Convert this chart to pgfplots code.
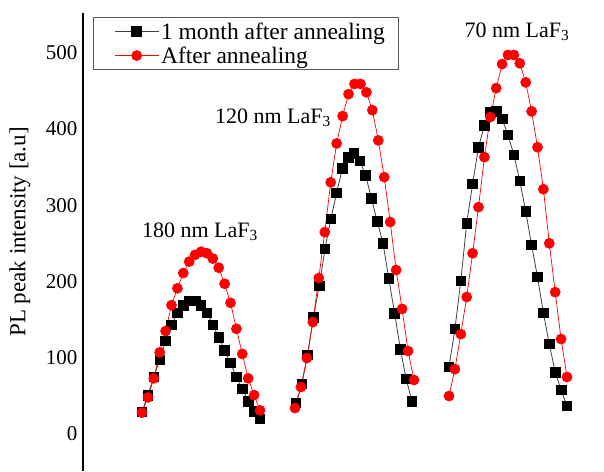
\documentclass[border=0pt]{standalone}
\usepackage{pgfplots}
\pgfplotsset{compat=1.18}
\usepackage{fontspec}
\setmainfont{Liberation Serif}
\begin{document}
\begin{tikzpicture}
\useasboundingbox (0,0) rectangle (604pt,471pt);
\begin{axis}[
  at={(83pt,0pt)}, anchor=south west,
  scale only axis, width=521pt, height=458pt,
  xmin=83, xmax=604, ymin=-48.5, ymax=552,
  separate axis lines,
  axis x line=none,
  axis y line*=left,
  y axis line style={line width=1.6pt},
  ytick={0,100,200,300,400,500},
  ytick style={draw=none},
  yticklabel style={font=\fontsize{21}{24}\selectfont, xshift=-2pt},
  /pgf/number format/assume math mode=true,
  ylabel={PL peak intensity [a.u]},
  ylabel style={font=\fontsize{23}{26}\selectfont, at={(axis description cs:-0.121,0.522)}, anchor=center},
  unbounded coords=jump,
  clip=false,
  legend style={at={(axis description cs:0.019,0.991)}, anchor=north west, draw=gray!70!black, line width=0.8pt,
    font=\fontsize{23.5}{26}\selectfont, inner xsep=11pt, inner ysep=3pt, row sep=2pt, legend cell align=left,
    nodes={inner xsep=2pt}},
  legend image code/.code={\path (-10pt,0pt); \draw[mark repeat=2,mark phase=2,#1] plot coordinates {(0pt,0pt) (22pt,0pt) (44pt,0pt)};},
]
\addplot[black!75, line width=0.8pt, mark=square*, mark size=4.8pt, mark options={fill=black, draw=black}] coordinates {
(142,28.8) (147.9,51) (153.8,74.7) (159.7,97) (165.6,121.9) (171.5,142.9) (177.4,158.6) (183.3,169) (189.2,174.3) (195.1,174.3) (201,169) (206.9,158.6) (212.8,142.9) (218.7,127) (224.6,110) (230.5,93) (236.4,74.7) (242.3,59) (248.2,43) (254.1,30) (260,19.7)
(275,nan)
(296,40.6) (301.8,65.5) (307.6,103.5) (313.4,153) (319.2,194) (325,242.5) (330.8,282) (336.6,316) (342.4,348.6) (348.2,363) (354,368) (359.8,358) (365.6,339.4) (371.4,309) (377.2,279) (383,250) (388.8,204) (394.6,158) (400.4,111) (406.2,72) (412,43)
(430,nan)
(449,87.8) (454.9,137.6) (460.8,200.5) (466.7,276.5) (472.6,327.7) (478.5,376) (484.4,405) (490.3,422) (496.2,423) (502.1,413) (508,392) (513.9,365.7) (519.8,331.6) (525.7,292) (531.6,247.7) (537.5,205.8) (543.4,158.6) (549.3,118) (555.2,81) (561.1,57.7) (567,36.7)
};
\addlegendentry{1 month after annealing}
\addplot[red, line width=0.7pt, mark=*, mark size=5pt, mark options={fill=red, draw=red}] coordinates {
(142,28) (147.9,48) (153.8,73) (159.7,107) (165.6,135) (171.5,169) (177.4,191) (183.3,211) (189.2,226) (195.1,235) (201,239) (206.9,237) (212.8,230) (218.7,218) (224.6,197) (230.5,172) (236.4,138) (242.3,105) (248.2,73) (254.1,51) (260,31)
(275,nan)
(295,34) (300.95,61.6) (306.9,99.6) (312.85,146.8) (318.8,204.5) (324.75,264.7) (330.7,330) (336.65,381) (342.6,416.8) (348.55,445.6) (354.5,459) (360.45,459) (366.4,448) (372.35,424.6) (378.3,385) (384.25,336.8) (390.2,277.9) (396.15,215) (402.1,164) (408.05,108.8) (414,70.8)
(430,nan)
(449,49.8) (454.9,85) (460.8,131) (466.7,179.6) (472.6,237) (478.5,297.5) (484.4,363) (490.3,415.5) (496.2,453.5) (502.1,485) (508,497) (513.9,497) (519.8,486) (525.7,461) (531.6,423) (537.5,376) (543.4,321) (549.3,250) (555.2,186) (561.1,124.5) (567,74.7)
};
\addlegendentry{After annealing}
\node[font=\fontsize{22}{25}\selectfont] at (axis cs:200,265) {180 nm LaF\textsubscript{3}};
\node[font=\fontsize{22}{25}\selectfont] at (axis cs:273,415) {120 nm LaF\textsubscript{3}};
\node[font=\fontsize{22}{25}\selectfont] at (axis cs:517,527) {70 nm LaF\textsubscript{3}};
\end{axis}
\end{tikzpicture}
\end{document}
